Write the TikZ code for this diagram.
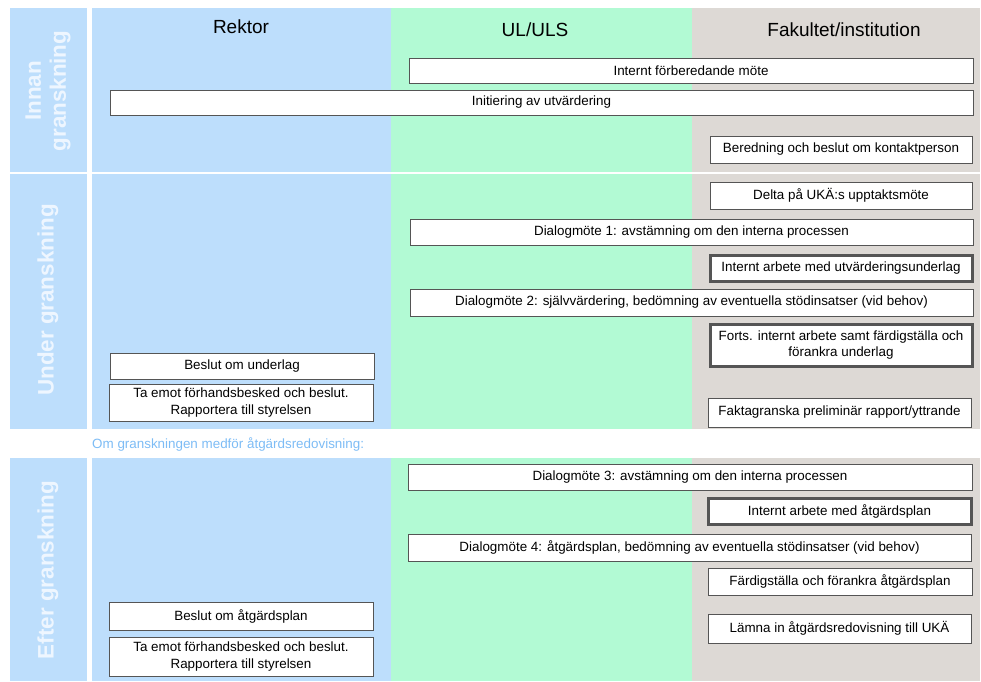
\documentclass[tikz,border=0pt]{standalone}
\usepackage{fontspec}
\setmainfont{Liberation Sans}
\definecolor{rekblue}{RGB}{189,222,252}
\definecolor{ulgreen}{RGB}{178,250,212}
\definecolor{fakgrey}{RGB}{221,217,213}
\definecolor{boxgray}{RGB}{85,85,85}
\definecolor{labwhite}{RGB}{238,246,255}
\definecolor{midblue}{RGB}{125,188,245}
\begin{document}
\begin{tikzpicture}[x=1pt,y=-1pt,
  box/.style={draw=boxgray, fill=white, line width=1pt, inner sep=1pt, align=center,
    font=\fontsize{13.4}{16.5}\selectfont},
  thickbox/.style={box, line width=3pt},
  head/.style={font=\fontsize{19}{22}\selectfont},
  phase/.style={font=\fontsize{22.4}{25}\bfseries\selectfont, text=labwhite, rotate=90, align=center},
]
\useasboundingbox (0,0) rectangle (981,681);
% panels
\foreach \ya/\yb in {8/172, 174/429, 458/681}{
  \fill[rekblue] (10,\ya) rectangle (87,\yb);
  \fill[rekblue] (92,\ya) rectangle (391,\yb);
  \fill[ulgreen] (391,\ya) rectangle (692,\yb);
  \fill[fakgrey] (692,\ya) rectangle (980,\yb);
}
% headers
\node[head] (hrek) at (241,27) {Rektor};
\node[head] (hul) at (535,30) {UL/ULS};
\node[head] (hfak) at (844,30) {Fakultet/institution};
% phase labels
\node[phase] (pinnan) at (48,91) {Innan\\granskning};
\node[phase] (punder) at (48,300) {Under granskning};
\node[phase] (pefter) at (48,570) {Efter granskning};
% middle text
\node[anchor=west, text=midblue, font=\fontsize{13.4}{16}\selectfont, inner sep=0] (mid) at (92,444) {Om granskningen medför åtgärdsredovisning:};
% Innan
\node[box, minimum width=564pt, minimum height=25pt] (b1) at (691,70.5) {Internt förberedande möte};
\node[box, minimum width=863pt, minimum height=25pt] (b2) at (541.5,102.5) {Initiering av utvärdering};
\node[box, minimum width=262pt, minimum height=27pt] (b3) at (841,149.5) {Beredning och beslut om kontaktperson};
% Under
\node[box, minimum width=262pt, minimum height=27pt] (b4) at (841,195.5) {Delta på UKÄ:s upptaktsmöte};
\node[box, minimum width=563pt, minimum height=26pt] (b5) at (691.5,232) {Dialogmöte 1: avstämning om den interna processen};
\node[thickbox, minimum width=262pt, minimum height=26pt] (b6) at (841,268) {Internt arbete med utvärderingsunderlag};
\node[box, minimum width=563pt, minimum height=27pt] (b7) at (691.5,302.5) {Dialogmöte 2: självvärdering, bedömning av eventuella stödinsatser (vid behov)};
\node[thickbox, minimum width=262pt, minimum height=42pt] (b8) at (841,345) {Forts. internt arbete samt färdigställa och\\förankra underlag};
\node[box, minimum width=263pt, minimum height=29pt] (b9) at (839.5,412.5) {Faktagranska preliminär rapport/yttrande};
\node[box, minimum width=264pt, minimum height=26pt] (b10) at (242,366) {Beslut om underlag};
\node[box, minimum width=264pt, minimum height=37pt] (b11) at (241,402.5) {Ta emot förhandsbesked och beslut.\\Rapportera till styrelsen};
% Efter
\node[box, minimum width=564pt, minimum height=26pt] (b12) at (690,477) {Dialogmöte 3: avstämning om den interna processen};
\node[thickbox, minimum width=263pt, minimum height=26pt] (b13) at (839.5,511) {Internt arbete med åtgärdsplan};
\node[box, minimum width=563pt, minimum height=27pt] (b14) at (689.5,547.5) {Dialogmöte 4: åtgärdsplan, bedömning av eventuella stödinsatser (vid behov)};
\node[box, minimum width=264pt, minimum height=27pt] (b15) at (840,581.5) {Färdigställa och förankra åtgärdsplan};
\node[box, minimum width=263pt, minimum height=29pt] (b16) at (839.5,628.5) {Lämna in åtgärdsredovisning till UKÄ};
\node[box, minimum width=264pt, minimum height=28pt] (b17) at (241,616) {Beslut om åtgärdsplan};
\node[box, minimum width=264pt, minimum height=39pt] (b18) at (241,656.5) {Ta emot förhandsbesked och beslut.\\Rapportera till styrelsen};
\end{tikzpicture}
\end{document}
